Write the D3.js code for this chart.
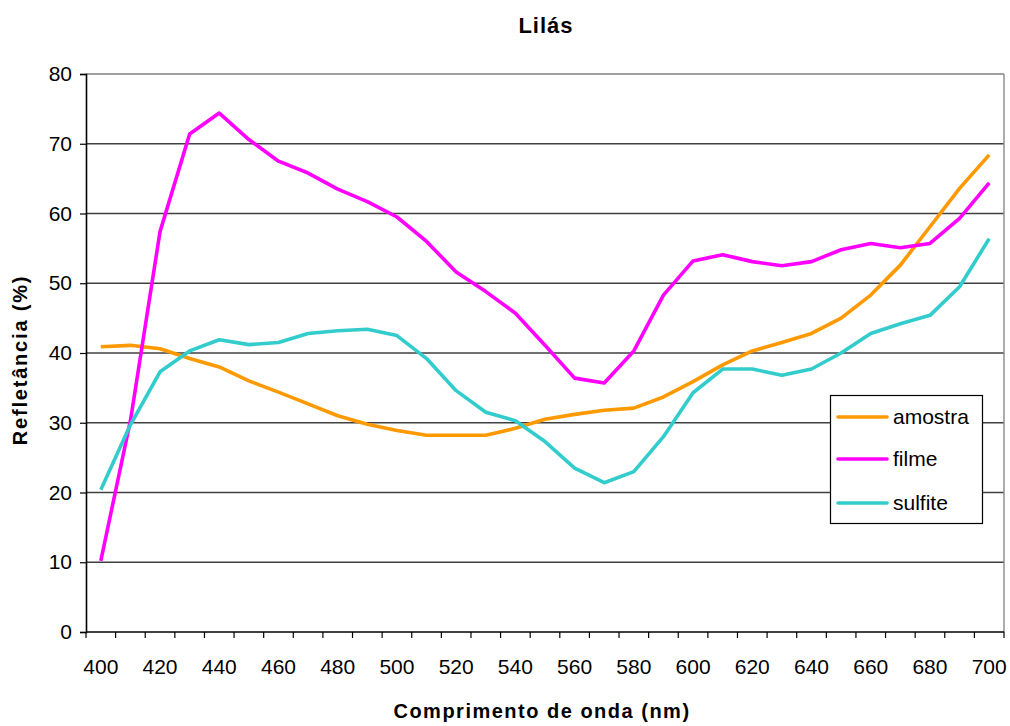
<!DOCTYPE html>
<html><head><meta charset="utf-8">
<script src="https://cdn.jsdelivr.net/npm/d3@7"></script>
<style>body{margin:0;background:#fff;} svg{display:block;font-family:"Liberation Sans",Arial,sans-serif;}</style>
</head><body>
<svg id="chart" width="1010" height="726"></svg>
<script>
const categories = [400,410,420,430,440,450,460,470,480,490,500,510,520,530,540,550,560,570,580,590,600,610,620,630,640,650,660,670,680,690,700];
const amostra = [40.9,41.1,40.6,39.2,38.0,36.0,34.4,32.7,31.0,29.8,28.9,28.2,28.2,28.2,29.2,30.5,31.2,31.8,32.1,33.7,35.9,38.3,40.3,41.5,42.8,45.0,48.3,52.6,58.1,63.6,68.4];
const filme = [10.2,30.3,57.4,71.4,74.4,70.6,67.5,65.8,63.5,61.7,59.5,56.0,51.6,48.8,45.7,41.1,36.4,35.7,40.3,48.3,53.2,54.1,53.1,52.5,53.1,54.8,55.7,55.1,55.7,59.3,64.4];
const sulfite = [20.4,29.7,37.3,40.3,41.9,41.2,41.5,42.8,43.2,43.4,42.5,39.2,34.6,31.5,30.3,27.3,23.5,21.4,23.0,28.0,34.3,37.7,37.7,36.8,37.7,40.0,42.8,44.2,45.4,49.5,56.4];
const seriesNames = ["amostra","filme","sulfite"];
const seriesColors = ["#FF9900","#FF00FF","#33CCCC"];
const yTicks = [0,10,20,30,40,50,60,70,80];
const xLabels = [400,420,440,460,480,500,520,540,560,580,600,620,640,660,680,700];

const svg = d3.select("#chart");
const L = 86, R = 1004, T = 74, B = 632;
const x = d3.scaleBand().domain(categories).range([L, R]).padding(0);
const y = d3.scaleLinear().domain([0, 80]).range([B, T]);

// gridlines
svg.append("g").selectAll("line").data(yTicks.filter(v => v > 0)).join("line")
  .attr("x1", L).attr("x2", R).attr("y1", d => y(d)).attr("y2", d => y(d))
  .attr("stroke", d => d === 80 ? "#808080" : "#404040").attr("stroke-width", 1.3);
// right border
svg.append("line").attr("x1", R).attr("x2", R).attr("y1", T).attr("y2", B)
  .attr("stroke", "#909090").attr("stroke-width", 1.5);

// y axis
const yAxis = svg.append("g").attr("transform", `translate(${L},0)`)
  .call(d3.axisLeft(y).tickValues(yTicks).tickSize(6).tickPadding(8).tickFormat(d3.format("d")));
yAxis.select(".domain").attr("stroke", "#000").attr("stroke-width", 1.6);
yAxis.selectAll(".tick line").attr("stroke", "#000").attr("stroke-width", 1.2);
yAxis.selectAll("text").attr("font-size", 21).attr("fill", "#000")
  .attr("font-family", "Liberation Sans, Arial, sans-serif");

// x axis: ticks at band boundaries
const boundaries = categories.map(c => x(c)).concat([x(categories[categories.length-1]) + x.bandwidth()]);
const xg = svg.append("g");
xg.append("line").attr("x1", L).attr("x2", R).attr("y1", B).attr("y2", B)
  .attr("stroke", "#000").attr("stroke-width", 1.6);
xg.selectAll("line.tk").data(boundaries).join("line").attr("class", "tk")
  .attr("x1", d => d).attr("x2", d => d).attr("y1", B).attr("y2", B + 6)
  .attr("stroke", "#000").attr("stroke-width", 1.2);
xg.selectAll("text").data(xLabels).join("text")
  .attr("x", d => x(d) + x.bandwidth() / 2).attr("y", 674)
  .attr("text-anchor", "middle").attr("font-size", 21).attr("fill", "#000")
  .text(d => d);

// lines
const data = [amostra, filme, sulfite];
const line = d3.line().x((d, i) => x(categories[i]) + x.bandwidth() / 2).y(d => y(d));
svg.append("g").selectAll("path").data(data).join("path")
  .attr("d", line).attr("fill", "none")
  .attr("stroke", (d, i) => seriesColors[i]).attr("stroke-width", 3.6)
  .attr("stroke-linejoin", "round");

// titles
svg.append("text").attr("x", 546).attr("y", 33).attr("text-anchor", "middle")
  .attr("font-weight", "bold").attr("font-size", 22).attr("letter-spacing", 1)
  .text("Lilás");
svg.append("text").attr("x", 542).attr("y", 718).attr("text-anchor", "middle")
  .attr("font-weight", "bold").attr("font-size", 20).attr("letter-spacing", 1.5)
  .text("Comprimento de onda (nm)");
svg.append("text").attr("transform", "translate(27,360) rotate(-90)").attr("text-anchor", "middle")
  .attr("font-weight", "bold").attr("font-size", 20).attr("letter-spacing", 1.8)
  .text("Refletância (%)");

// legend
const lg = svg.append("g");
lg.append("rect").attr("x", 830.5).attr("y", 395.5).attr("width", 152).attr("height", 128)
  .attr("fill", "#fff").attr("stroke", "#000").attr("stroke-width", 1.2);
const ly = [417, 459, 503];
seriesNames.forEach((n, i) => {
  lg.append("line").attr("x1", 838).attr("x2", 887).attr("y1", ly[i]).attr("y2", ly[i])
    .attr("stroke", seriesColors[i]).attr("stroke-width", 3.6).attr("stroke-linecap", "round");
  lg.append("text").attr("x", 893).attr("y", ly[i] + 7).attr("font-size", 21).attr("fill", "#000").text(n);
});
</script>
</body></html>
